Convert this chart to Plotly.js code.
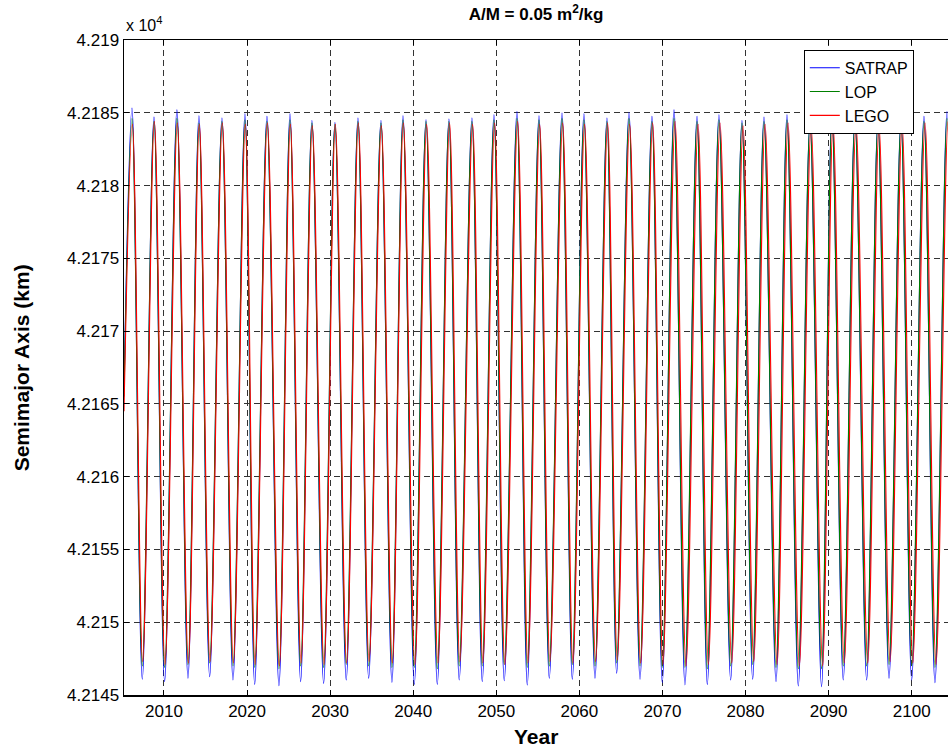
<!DOCTYPE html>
<html>
<head>
<meta charset="utf-8">
<script src="https://cdn.plot.ly/plotly-3.0.1.min.js"></script>
<style>html,body{margin:0;padding:0;background:#fff;}#chart{width:948px;height:753px;}</style>
</head>
<body>
<div id="chart"></div>
<script>
// Extremes (start, peak, trough, peak, ..., end), in years
var satrapYears = [
  2005.19, 2006.15, 2007.39, 2008.80, 2010.08, 2011.56, 2012.89, 2014.21, 2015.50, 2016.98,
  2018.31, 2019.75, 2020.92, 2022.40, 2023.84, 2025.17, 2026.45, 2027.81, 2029.22, 2030.58,
  2031.94, 2033.35, 2034.64, 2036.12, 2037.44, 2038.77, 2040.13, 2041.54, 2042.90, 2044.30,
  2045.54, 2047.07, 2048.31, 2049.72, 2050.96, 2052.49, 2053.73, 2055.14, 2056.38, 2057.91,
  2059.15, 2060.55, 2061.88, 2063.32, 2064.49, 2065.97, 2067.30, 2068.74, 2069.98, 2071.39,
  2072.71, 2074.16, 2075.40, 2076.80, 2078.21, 2079.57, 2080.86, 2082.22, 2083.67, 2084.99,
  2086.35, 2087.76, 2089.15, 2090.40, 2091.76, 2093.17, 2094.58, 2095.94, 2097.27, 2098.71,
  2100.00, 2101.48, 2102.80, 2104.25, 2105.20
];
var satrapKm = [
  42166.0, 42185.32, 42146.08, 42184.70, 42145.92, 42185.20, 42146.15, 42184.80, 42146.26, 42184.64,
  42146.03, 42184.93, 42145.73, 42184.75, 42145.64, 42184.93, 42145.92, 42184.47, 42145.80, 42184.33,
  42146.03, 42184.64, 42146.15, 42184.47, 42145.87, 42184.80, 42145.73, 42184.52, 42145.73, 42184.57,
  42146.03, 42184.64, 42145.92, 42184.86, 42145.98, 42185.09, 42145.69, 42184.80, 42146.15, 42184.98,
  42146.08, 42184.93, 42146.15, 42184.64, 42146.49, 42185.02, 42146.08, 42184.75, 42145.85, 42185.20,
  42145.69, 42184.75, 42145.73, 42184.86, 42146.03, 42184.47, 42146.08, 42184.70, 42145.92, 42184.86,
  42145.62, 42184.40, 42145.57, 42184.98, 42146.03, 42184.70, 42146.03, 42184.52, 42146.15, 42184.52,
  42146.03, 42184.75, 42145.85, 42185.09, 42160.0
];
var lopYears = satrapYears;
var lopKm = [
  42165.5, 42184.6, 42147.0, 42184.4, 42146.9, 42184.6, 42147.1, 42184.3, 42147.2, 42184.4,
  42147.0, 42184.5, 42146.9, 42184.4, 42146.8, 42184.5, 42147.0, 42184.3, 42146.9, 42184.2,
  42147.1, 42184.4, 42147.0, 42184.3, 42146.9, 42184.5, 42146.9, 42184.4, 42146.8, 42184.4,
  42147.0, 42184.4, 42147.0, 42184.5, 42147.1, 42184.6, 42146.9, 42184.5, 42147.0, 42184.6,
  42147.1, 42184.5, 42147.0, 42184.4, 42147.2, 42184.6, 42147.0, 42184.4, 42146.9, 42184.6,
  42146.9, 42184.4, 42146.8, 42184.5, 42147.0, 42184.3, 42147.1, 42184.4, 42146.9, 42184.5,
  42146.8, 42184.3, 42146.8, 42184.6, 42147.0, 42184.4, 42147.0, 42184.3, 42147.1, 42184.3,
  42147.0, 42184.4, 42146.9, 42184.6, 42161.0
];
var legoYears = [
  2005.19, 2006.20, 2007.44, 2008.85, 2010.13, 2011.61, 2012.94, 2014.26, 2015.55, 2017.03,
  2018.36, 2019.80, 2020.97, 2022.45, 2023.89, 2025.22, 2026.50, 2027.86, 2029.27, 2030.63,
  2031.99, 2033.40, 2034.69, 2036.17, 2037.49, 2038.82, 2040.21, 2041.62, 2042.98, 2044.38,
  2045.62, 2047.15, 2048.39, 2049.80, 2051.04, 2052.57, 2053.81, 2055.22, 2056.46, 2057.99,
  2059.23, 2060.63, 2061.96, 2063.40, 2064.57, 2066.05, 2067.38, 2068.82, 2070.06, 2071.52,
  2072.84, 2074.29, 2075.53, 2076.93, 2078.34, 2079.70, 2080.99, 2082.35, 2083.80, 2085.12,
  2086.48, 2087.89, 2089.28, 2090.53, 2091.89, 2093.30, 2094.71, 2096.07, 2097.40, 2098.84,
  2100.13, 2101.61, 2102.93, 2104.38, 2105.33
];
var legoKm = [
  42164.5, 42184.2, 42147.3, 42184.4, 42147.1, 42184.3, 42147.2, 42184.2, 42147.3, 42184.3,
  42147.2, 42184.2, 42147.1, 42184.3, 42147.0, 42184.2, 42147.2, 42184.1, 42147.1, 42184.2,
  42147.2, 42184.3, 42147.3, 42184.1, 42147.2, 42184.3, 42147.1, 42184.2, 42147.2, 42184.3,
  42147.3, 42184.2, 42147.2, 42184.3, 42147.1, 42184.4, 42147.2, 42184.2, 42147.3, 42184.3,
  42147.2, 42184.2, 42147.3, 42184.3, 42147.4, 42184.2, 42147.2, 42184.3, 42147.1, 42184.4,
  42147.0, 42184.2, 42147.1, 42184.3, 42147.2, 42184.1, 42147.3, 42184.2, 42147.1, 42184.3,
  42147.0, 42184.1, 42147.0, 42184.3, 42147.2, 42184.2, 42147.2, 42184.1, 42147.3, 42184.2,
  42147.2, 42184.3, 42147.1, 42184.4, 42162.0
];
var seriesNames = ['SATRAP', 'LOP', 'LEGO'];
var xTickVals = [2010, 2020, 2030, 2040, 2050, 2060, 2070, 2080, 2090, 2100];
var yTickVals = [42145, 42150, 42155, 42160, 42165, 42170, 42175, 42180, 42185, 42190];
var yTickText = ['4.2145', '4.215', '4.2155', '4.216', '4.2165', '4.217', '4.2175', '4.218', '4.2185', '4.219'];

var FONT = 'Liberation Sans, Arial, Helvetica, sans-serif';
function mk(x, y, name, color) {
  return {x: x, y: y, name: name, type: 'scatter', mode: 'lines',
          line: {color: color, width: 1.1, shape: 'spline', smoothing: 1}};
}
var data = [
  mk(satrapYears, satrapKm, seriesNames[0], '#0000ff'),
  mk(lopYears, lopKm, seriesNames[1], '#008000'),
  mk(legoYears, legoKm, seriesNames[2], '#ff0000')
];
var gridCol = '#333';
var layout = {
  width: 948, height: 753,
  margin: {l: 124, r: 0, t: 40, b: 58},
  paper_bgcolor: '#fff', plot_bgcolor: '#fff',
  font: {family: FONT, size: 17, color: '#000'},
  showlegend: true,
  title: {text: '<b>A/M = 0.05 m<sup>2</sup>/kg</b>', font: {family: FONT, size: 17, color: '#000'},
          x: 0.5, xref: 'paper', xanchor: 'center', y: 0.981, yref: 'container', yanchor: 'middle'},
  xaxis: {
    range: [2005.19, 2104.37], tickmode: 'array', tickvals: xTickVals,
    ticks: 'inside', ticklen: 5, tickwidth: 1, tickcolor: '#000',
    showline: true, linecolor: '#000', linewidth: 1.5, mirror: 'ticks',
    showgrid: true, gridcolor: gridCol, gridwidth: 1, griddash: '6px,4px',
    zeroline: false, tickfont: {family: FONT, size: 17, color: '#000'}
  },
  yaxis: {
    range: [42145, 42190], tickmode: 'array', tickvals: yTickVals, ticktext: yTickText,
    ticks: 'inside', ticklen: 5, tickwidth: 1, tickcolor: '#000',
    showline: true, linecolor: '#000', linewidth: 1.5, mirror: false,
    showgrid: true, gridcolor: gridCol, gridwidth: 1, griddash: '6px,4px',
    zeroline: false, tickfont: {family: FONT, size: 17, color: '#000'}
  },
  legend: {
    x: 0.825, xanchor: 'left', y: 0.985, yanchor: 'top',
    bgcolor: '#fff', bordercolor: '#000', borderwidth: 1,
    font: {family: FONT, size: 16, color: '#000'}, tracegroupgap: 0
  },
  annotations: [
    {text: '<b>Semimajor Axis (km)</b>', xref: 'paper', yref: 'paper', x: -0.124, y: 0.5,
     xanchor: 'center', yanchor: 'middle', textangle: -90, showarrow: false,
     font: {family: FONT, size: 21, color: '#000'}},
    {text: '<b>Year</b>', xref: 'paper', yref: 'paper', x: 0.5, y: -0.064,
     xanchor: 'center', yanchor: 'middle', showarrow: false,
     font: {family: FONT, size: 21, color: '#000'}},
    {text: 'x 10<sup>4</sup>', xref: 'paper', yref: 'paper', x: 0, y: 1.025,
     xanchor: 'left', yanchor: 'middle', showarrow: false,
     font: {family: FONT, size: 16, color: '#000'}}
  ]
};
Plotly.newPlot('chart', data, layout, {displayModeBar: false, staticPlot: true});
</script>
</body>
</html>
